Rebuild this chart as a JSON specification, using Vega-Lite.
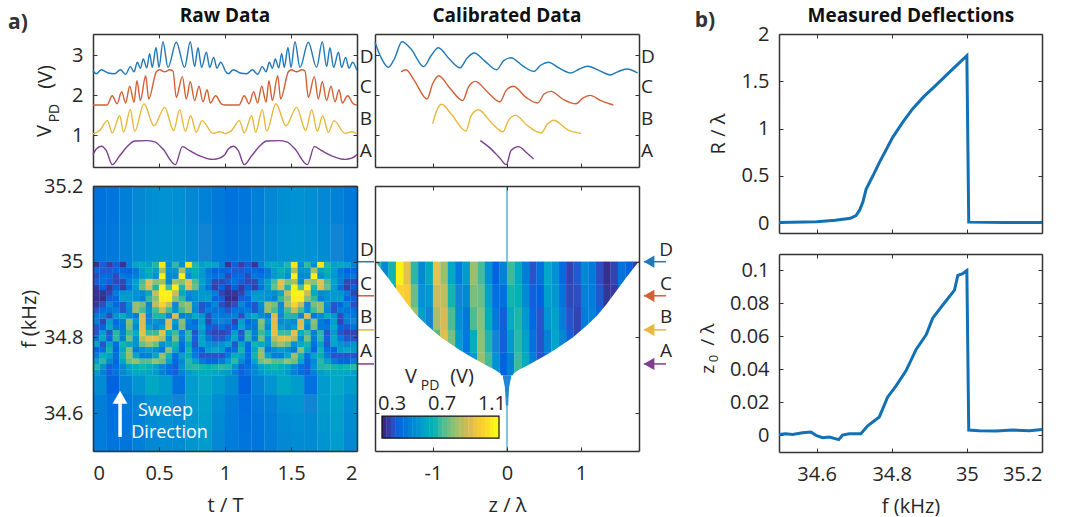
{"$schema":"https://vega.github.io/schema/vega-lite/v6.json","background":"white","padding":{"left":8,"top":6,"right":0,"bottom":0},
"config":{"view":{"stroke":null},"font":"Open Sans","text":{"font":"Open Sans"},"axis":{"grid":false,"domainColor":"#333333","domainWidth":1.5,"tickColor":"#333333","tickSize":-4,"tickWidth":1,"labelFont":"Open Sans","labelFontSize":20,"labelColor":"#262626","titleFont":"Open Sans","titleFontSize":20,"titleFontWeight":"normal","titleColor":"#262626","labelExpr":"''+datum.value"},"axisX":{"labelPadding":16,"titlePadding":12},"axisY":{"labelPadding":14}},
"datasets":{
"tr":[
{"t":0,"u":1,"V":2.61,"s":"D"},{"t":0.025,"u":1.025,"V":2.53,"s":"D"},{"t":0.063,"u":1.063,"V":2.63,"s":"D"},{"t":0.114,"u":1.114,"V":2.55,"s":"D"},{"t":0.164,"u":1.164,"V":2.53,"s":"D"},{"t":0.207,"u":1.207,"V":2.63,"s":"D"},{"t":0.247,"u":1.247,"V":2.52,"s":"D"},{"t":0.283,"u":1.283,"V":2.71,"s":"D"},{"t":0.311,"u":1.311,"V":2.58,"s":"D"},{"t":0.336,"u":1.336,"V":2.82,"s":"D"},{"t":0.359,"u":1.359,"V":2.67,"s":"D"},{"t":0.381,"u":1.381,"V":2.9,"s":"D"},{"t":0.407,"u":1.407,"V":2.68,"s":"D"},{"t":0.429,"u":1.429,"V":3.03,"s":"D"},{"t":0.449,"u":1.449,"V":2.69,"s":"D"},{"t":0.477,"u":1.477,"V":3.19,"s":"D"},{"t":0.5,"u":1.5,"V":2.69,"s":"D"},{"t":0.53,"u":1.53,"V":3.33,"s":"D"},{"t":0.568,"u":1.568,"V":2.69,"s":"D"},{"t":0.631,"u":1.631,"V":3.32,"s":"D"},{"t":0.694,"u":1.694,"V":2.69,"s":"D"},{"t":0.737,"u":1.737,"V":3.33,"s":"D"},{"t":0.77,"u":1.77,"V":2.71,"s":"D"},{"t":0.795,"u":1.795,"V":3.18,"s":"D"},{"t":0.823,"u":1.823,"V":2.69,"s":"D"},{"t":0.859,"u":1.859,"V":3.07,"s":"D"},{"t":0.884,"u":1.884,"V":2.69,"s":"D"},{"t":0.914,"u":1.914,"V":2.94,"s":"D"},{"t":0.939,"u":1.939,"V":2.67,"s":"D"},{"t":0.967,"u":1.967,"V":2.82,"s":"D"},{"t":1,"u":2,"V":2.61,"s":"D"},
{"t":0,"u":1,"V":1.75,"s":"C"},{"t":0.05,"u":1.05,"V":1.75,"s":"C"},{"t":0.106,"u":1.106,"V":1.75,"s":"C"},{"t":0.146,"u":1.146,"V":1.98,"s":"C"},{"t":0.182,"u":1.182,"V":1.78,"s":"C"},{"t":0.217,"u":1.217,"V":2.08,"s":"C"},{"t":0.247,"u":1.247,"V":1.8,"s":"C"},{"t":0.278,"u":1.278,"V":2.22,"s":"C"},{"t":0.311,"u":1.311,"V":1.82,"s":"C"},{"t":0.333,"u":1.333,"V":2.36,"s":"C"},{"t":0.359,"u":1.359,"V":1.86,"s":"C"},{"t":0.399,"u":1.399,"V":2.48,"s":"C"},{"t":0.422,"u":1.422,"V":1.9,"s":"C"},{"t":0.48,"u":1.48,"V":2.58,"s":"C"},{"t":0.505,"u":1.505,"V":2.63,"s":"C"},{"t":0.543,"u":1.543,"V":2.58,"s":"C"},{"t":0.581,"u":1.581,"V":2.63,"s":"C"},{"t":0.606,"u":1.606,"V":2.6,"s":"C"},{"t":0.631,"u":1.631,"V":1.94,"s":"C"},{"t":0.677,"u":1.677,"V":2.46,"s":"C"},{"t":0.707,"u":1.707,"V":1.9,"s":"C"},{"t":0.737,"u":1.737,"V":2.33,"s":"C"},{"t":0.77,"u":1.77,"V":1.86,"s":"C"},{"t":0.803,"u":1.803,"V":2.22,"s":"C"},{"t":0.833,"u":1.833,"V":1.83,"s":"C"},{"t":0.864,"u":1.864,"V":2.13,"s":"C"},{"t":0.889,"u":1.889,"V":1.8,"s":"C"},{"t":0.929,"u":1.929,"V":1.98,"s":"C"},{"t":0.972,"u":1.972,"V":1.78,"s":"C"},{"t":1,"u":2,"V":1.75,"s":"C"},
{"t":0,"u":1,"V":1.03,"s":"B"},{"t":0.05,"u":1.05,"V":1.11,"s":"B"},{"t":0.109,"u":1.109,"V":1.36,"s":"B"},{"t":0.146,"u":1.146,"V":1.05,"s":"B"},{"t":0.202,"u":1.202,"V":1.48,"s":"B"},{"t":0.232,"u":1.232,"V":1.07,"s":"B"},{"t":0.283,"u":1.283,"V":1.63,"s":"B"},{"t":0.316,"u":1.316,"V":1.09,"s":"B"},{"t":0.386,"u":1.386,"V":1.78,"s":"B"},{"t":0.462,"u":1.462,"V":1.23,"s":"B"},{"t":0.543,"u":1.543,"V":1.69,"s":"B"},{"t":0.611,"u":1.611,"V":1.11,"s":"B"},{"t":0.657,"u":1.657,"V":1.63,"s":"B"},{"t":0.699,"u":1.699,"V":1.09,"s":"B"},{"t":0.74,"u":1.74,"V":1.48,"s":"B"},{"t":0.783,"u":1.783,"V":1.07,"s":"B"},{"t":0.826,"u":1.826,"V":1.36,"s":"B"},{"t":0.909,"u":1.909,"V":1.04,"s":"B"},{"t":0.96,"u":1.96,"V":1.08,"s":"B"},{"t":1,"u":2,"V":1.03,"s":"B"},
{"t":0,"u":1,"V":0.51,"s":"A"},{"t":0.025,"u":1.025,"V":0.65,"s":"A"},{"t":0.063,"u":1.063,"V":0.72,"s":"A"},{"t":0.101,"u":1.101,"V":0.61,"s":"A"},{"t":0.146,"u":1.146,"V":0.26,"s":"A"},{"t":0.202,"u":1.202,"V":0.48,"s":"A"},{"t":0.265,"u":1.265,"V":0.73,"s":"A"},{"t":0.316,"u":1.316,"V":0.85,"s":"A"},{"t":0.404,"u":1.404,"V":0.86,"s":"A"},{"t":0.467,"u":1.467,"V":0.83,"s":"A"},{"t":0.53,"u":1.53,"V":0.65,"s":"A"},{"t":0.624,"u":1.624,"V":0.26,"s":"A"},{"t":0.677,"u":1.677,"V":0.71,"s":"A"},{"t":0.732,"u":1.732,"V":0.61,"s":"A"},{"t":0.808,"u":1.808,"V":0.48,"s":"A"},{"t":0.909,"u":1.909,"V":0.39,"s":"A"},{"t":0.96,"u":1.96,"V":0.42,"s":"A"},{"t":1,"u":2,"V":0.51,"s":"A"}],
"cal":[
{"z":-1.784,"V":3.32,"s":"D"},{"z":-1.703,"V":2.94,"s":"D"},{"z":-1.604,"V":2.69,"s":"D"},{"z":-1.523,"V":2.9,"s":"D"},{"z":-1.419,"V":3.33,"s":"D"},{"z":-1.297,"V":3.15,"s":"D"},{"z":-1.126,"V":2.71,"s":"D"},{"z":-1.027,"V":2.98,"s":"D"},{"z":-0.928,"V":3.18,"s":"D"},{"z":-0.779,"V":2.9,"s":"D"},{"z":-0.635,"V":2.68,"s":"D"},{"z":-0.541,"V":2.92,"s":"D"},{"z":-0.441,"V":3.05,"s":"D"},{"z":-0.306,"V":2.86,"s":"D"},{"z":-0.14,"V":2.63,"s":"D"},{"z":-0.045,"V":2.86,"s":"D"},{"z":0.054,"V":2.93,"s":"D"},{"z":0.212,"V":2.73,"s":"D"},{"z":0.36,"V":2.59,"s":"D"},{"z":0.459,"V":2.75,"s":"D"},{"z":0.559,"V":2.82,"s":"D"},{"z":0.707,"V":2.67,"s":"D"},{"z":0.865,"V":2.55,"s":"D"},{"z":0.977,"V":2.65,"s":"D"},{"z":1.09,"V":2.72,"s":"D"},{"z":1.248,"V":2.61,"s":"D"},{"z":1.396,"V":2.5,"s":"D"},{"z":1.495,"V":2.58,"s":"D"},{"z":1.622,"V":2.65,"s":"D"},{"z":1.766,"V":2.55,"s":"D"},
{"z":-1.432,"V":2.58,"s":"C"},{"z":-1.365,"V":2.63,"s":"C"},{"z":-1.252,"V":2.36,"s":"C"},{"z":-1.081,"V":1.9,"s":"C"},{"z":-1.005,"V":2.28,"s":"C"},{"z":-0.923,"V":2.48,"s":"C"},{"z":-0.779,"V":2.19,"s":"C"},{"z":-0.599,"V":1.86,"s":"C"},{"z":-0.523,"V":2.19,"s":"C"},{"z":-0.428,"V":2.34,"s":"C"},{"z":-0.261,"V":2.07,"s":"C"},{"z":-0.095,"V":1.83,"s":"C"},{"z":-0.014,"V":2.11,"s":"C"},{"z":0.086,"V":2.22,"s":"C"},{"z":0.257,"V":1.94,"s":"C"},{"z":0.414,"V":1.8,"s":"C"},{"z":0.505,"V":2.03,"s":"C"},{"z":0.595,"V":2.09,"s":"C"},{"z":0.752,"V":1.9,"s":"C"},{"z":0.932,"V":1.78,"s":"C"},{"z":1.023,"V":1.92,"s":"C"},{"z":1.122,"V":1.99,"s":"C"},{"z":1.27,"V":1.86,"s":"C"},{"z":1.437,"V":1.75,"s":"C"},
{"z":-1.005,"V":1.28,"s":"B"},{"z":-0.959,"V":1.57,"s":"B"},{"z":-0.883,"V":1.77,"s":"B"},{"z":-0.757,"V":1.53,"s":"B"},{"z":-0.554,"V":1.1,"s":"B"},{"z":-0.486,"V":1.48,"s":"B"},{"z":-0.387,"V":1.63,"s":"B"},{"z":-0.216,"V":1.32,"s":"B"},{"z":-0.054,"V":1.08,"s":"B"},{"z":0.018,"V":1.36,"s":"B"},{"z":0.113,"V":1.49,"s":"B"},{"z":0.279,"V":1.23,"s":"B"},{"z":0.459,"V":1.05,"s":"B"},{"z":0.55,"V":1.28,"s":"B"},{"z":0.631,"V":1.37,"s":"B"},{"z":0.82,"V":1.13,"s":"B"},{"z":1.0,"V":1.04,"s":"B"},
{"z":-0.36,"V":0.86,"s":"A"},{"z":-0.239,"V":0.69,"s":"A"},{"z":-0.104,"V":0.44,"s":"A"},{"z":-0.009,"V":0.26,"s":"A"},{"z":0.054,"V":0.61,"s":"A"},{"z":0.158,"V":0.71,"s":"A"},{"z":0.257,"V":0.57,"s":"A"},{"z":0.36,"V":0.4,"s":"A"}],
"rawc":[
{"t":0.05,"u":1.05,"f":35.15,"v":0.45},{"t":0.15,"u":1.15,"f":35.15,"v":0.46},{"t":0.25,"u":1.25,"f":35.15,"v":0.49},{"t":0.35,"u":1.35,"f":35.15,"v":0.52},{"t":0.45,"u":1.45,"f":35.15,"v":0.54},{"t":0.55,"u":1.55,"f":35.15,"v":0.55},{"t":0.65,"u":1.65,"f":35.15,"v":0.54},{"t":0.75,"u":1.75,"f":35.15,"v":0.52},{"t":0.85,"u":1.85,"f":35.15,"v":0.5},{"t":0.95,"u":1.95,"f":35.15,"v":0.47},
{"t":0.05,"u":1.05,"f":35.05,"v":0.46},{"t":0.15,"u":1.15,"f":35.05,"v":0.47},{"t":0.25,"u":1.25,"f":35.05,"v":0.5},{"t":0.35,"u":1.35,"f":35.05,"v":0.53},{"t":0.45,"u":1.45,"f":35.05,"v":0.55},{"t":0.55,"u":1.55,"f":35.05,"v":0.56},{"t":0.65,"u":1.65,"f":35.05,"v":0.55},{"t":0.75,"u":1.75,"f":35.05,"v":0.53},{"t":0.85,"u":1.85,"f":35.05,"v":0.51},{"t":0.95,"u":1.95,"f":35.05,"v":0.48}],
"rawl":[
{"t":0.05,"u":1.05,"f":34.525,"v":0.48},{"t":0.15,"u":1.15,"f":34.525,"v":0.46},{"t":0.25,"u":1.25,"f":34.525,"v":0.46},{"t":0.35,"u":1.35,"f":34.525,"v":0.49},{"t":0.45,"u":1.45,"f":34.525,"v":0.52},{"t":0.55,"u":1.55,"f":34.525,"v":0.53},{"t":0.65,"u":1.65,"f":34.525,"v":0.53},{"t":0.75,"u":1.75,"f":34.525,"v":0.56},{"t":0.85,"u":1.85,"f":34.525,"v":0.58},{"t":0.95,"u":1.95,"f":34.525,"v":0.52},
{"t":0.05,"u":1.05,"f":34.575,"v":0.48},{"t":0.15,"u":1.15,"f":34.575,"v":0.45},{"t":0.25,"u":1.25,"f":34.575,"v":0.46},{"t":0.35,"u":1.35,"f":34.575,"v":0.49},{"t":0.45,"u":1.45,"f":34.575,"v":0.53},{"t":0.55,"u":1.55,"f":34.575,"v":0.54},{"t":0.65,"u":1.65,"f":34.575,"v":0.53},{"t":0.75,"u":1.75,"f":34.575,"v":0.57},{"t":0.85,"u":1.85,"f":34.575,"v":0.59},{"t":0.95,"u":1.95,"f":34.575,"v":0.53},
{"t":0.05,"u":1.05,"f":34.625,"v":0.49},{"t":0.15,"u":1.15,"f":34.625,"v":0.44},{"t":0.25,"u":1.25,"f":34.625,"v":0.47},{"t":0.35,"u":1.35,"f":34.625,"v":0.5},{"t":0.45,"u":1.45,"f":34.625,"v":0.55},{"t":0.55,"u":1.55,"f":34.625,"v":0.56},{"t":0.65,"u":1.65,"f":34.625,"v":0.51},{"t":0.75,"u":1.75,"f":34.625,"v":0.58},{"t":0.85,"u":1.85,"f":34.625,"v":0.6},{"t":0.95,"u":1.95,"f":34.625,"v":0.54},
{"t":0.05,"u":1.05,"f":34.675,"v":0.53},{"t":0.15,"u":1.15,"f":34.675,"v":0.41},{"t":0.25,"u":1.25,"f":34.675,"v":0.5},{"t":0.35,"u":1.35,"f":34.675,"v":0.56},{"t":0.45,"u":1.45,"f":34.675,"v":0.63},{"t":0.55,"u":1.55,"f":34.675,"v":0.58},{"t":0.65,"u":1.65,"f":34.675,"v":0.45},{"t":0.75,"u":1.75,"f":34.675,"v":0.58},{"t":0.85,"u":1.85,"f":34.675,"v":0.62},{"t":0.95,"u":1.95,"f":34.675,"v":0.58}],
"raw":[
{"t":0.025,"u":1.025,"f":34.7075,"v":0.58},{"t":0.075,"u":1.075,"f":34.7075,"v":0.5},{"t":0.125,"u":1.125,"f":34.7075,"v":0.4},{"t":0.175,"u":1.175,"f":34.7075,"v":0.46},{"t":0.225,"u":1.225,"f":34.7075,"v":0.52},{"t":0.275,"u":1.275,"f":34.7075,"v":0.58},{"t":0.325,"u":1.325,"f":34.7075,"v":0.62},{"t":0.375,"u":1.375,"f":34.7075,"v":0.64},{"t":0.425,"u":1.425,"f":34.7075,"v":0.62},{"t":0.475,"u":1.475,"f":34.7075,"v":0.58},{"t":0.525,"u":1.525,"f":34.7075,"v":0.5},{"t":0.575,"u":1.575,"f":34.7075,"v":0.44},{"t":0.625,"u":1.625,"f":34.7075,"v":0.4},{"t":0.675,"u":1.675,"f":34.7075,"v":0.5},{"t":0.725,"u":1.725,"f":34.7075,"v":0.58},{"t":0.775,"u":1.775,"f":34.7075,"v":0.62},{"t":0.825,"u":1.825,"f":34.7075,"v":0.64},{"t":0.875,"u":1.875,"f":34.7075,"v":0.64},{"t":0.925,"u":1.925,"f":34.7075,"v":0.63},{"t":0.975,"u":1.975,"f":34.7075,"v":0.6},
{"t":0.025,"u":1.025,"f":34.7225,"v":0.7},{"t":0.075,"u":1.075,"f":34.7225,"v":0.56},{"t":0.125,"u":1.125,"f":34.7225,"v":0.4},{"t":0.175,"u":1.175,"f":34.7225,"v":0.44},{"t":0.225,"u":1.225,"f":34.7225,"v":0.52},{"t":0.275,"u":1.275,"f":34.7225,"v":0.61},{"t":0.325,"u":1.325,"f":34.7225,"v":0.67},{"t":0.375,"u":1.375,"f":34.7225,"v":0.69},{"t":0.425,"u":1.425,"f":34.7225,"v":0.67},{"t":0.475,"u":1.475,"f":34.7225,"v":0.61},{"t":0.525,"u":1.525,"f":34.7225,"v":0.52},{"t":0.575,"u":1.575,"f":34.7225,"v":0.44},{"t":0.625,"u":1.625,"f":34.7225,"v":0.4},{"t":0.675,"u":1.675,"f":34.7225,"v":0.56},{"t":0.725,"u":1.725,"f":34.7225,"v":0.7},{"t":0.775,"u":1.775,"f":34.7225,"v":0.71},{"t":0.825,"u":1.825,"f":34.7225,"v":0.69},{"t":0.875,"u":1.875,"f":34.7225,"v":0.67},{"t":0.925,"u":1.925,"f":34.7225,"v":0.69},{"t":0.975,"u":1.975,"f":34.7225,"v":0.71},
{"t":0.025,"u":1.025,"f":34.7375,"v":0.59},{"t":0.075,"u":1.075,"f":34.7375,"v":0.71},{"t":0.125,"u":1.125,"f":34.7375,"v":0.53},{"t":0.175,"u":1.175,"f":34.7375,"v":0.42},{"t":0.225,"u":1.225,"f":34.7375,"v":0.61},{"t":0.275,"u":1.275,"f":34.7375,"v":0.79},{"t":0.325,"u":1.325,"f":34.7375,"v":0.84},{"t":0.375,"u":1.375,"f":34.7375,"v":0.76},{"t":0.425,"u":1.425,"f":34.7375,"v":0.76},{"t":0.475,"u":1.475,"f":34.7375,"v":0.84},{"t":0.525,"u":1.525,"f":34.7375,"v":0.79},{"t":0.575,"u":1.575,"f":34.7375,"v":0.61},{"t":0.625,"u":1.625,"f":34.7375,"v":0.42},{"t":0.675,"u":1.675,"f":34.7375,"v":0.53},{"t":0.725,"u":1.725,"f":34.7375,"v":0.71},{"t":0.775,"u":1.775,"f":34.7375,"v":0.59},{"t":0.825,"u":1.825,"f":34.7375,"v":0.48},{"t":0.875,"u":1.875,"f":34.7375,"v":0.42},{"t":0.925,"u":1.925,"f":34.7375,"v":0.42},{"t":0.975,"u":1.975,"f":34.7375,"v":0.48},
{"t":0.025,"u":1.025,"f":34.7525,"v":0.48},{"t":0.075,"u":1.075,"f":34.7525,"v":0.66},{"t":0.125,"u":1.125,"f":34.7525,"v":0.6},{"t":0.175,"u":1.175,"f":34.7525,"v":0.44},{"t":0.225,"u":1.225,"f":34.7525,"v":0.69},{"t":0.275,"u":1.275,"f":34.7525,"v":0.85},{"t":0.325,"u":1.325,"f":34.7525,"v":0.62},{"t":0.375,"u":1.375,"f":34.7525,"v":0.49},{"t":0.425,"u":1.425,"f":34.7525,"v":0.49},{"t":0.475,"u":1.475,"f":34.7525,"v":0.62},{"t":0.525,"u":1.525,"f":34.7525,"v":0.85},{"t":0.575,"u":1.575,"f":34.7525,"v":0.69},{"t":0.625,"u":1.625,"f":34.7525,"v":0.44},{"t":0.675,"u":1.675,"f":34.7525,"v":0.6},{"t":0.725,"u":1.725,"f":34.7525,"v":0.66},{"t":0.775,"u":1.775,"f":34.7525,"v":0.48},{"t":0.825,"u":1.825,"f":34.7525,"v":0.38},{"t":0.875,"u":1.875,"f":34.7525,"v":0.38},{"t":0.925,"u":1.925,"f":34.7525,"v":0.38},{"t":0.975,"u":1.975,"f":34.7525,"v":0.38},
{"t":0.025,"u":1.025,"f":34.7675,"v":0.41},{"t":0.075,"u":1.075,"f":34.7675,"v":0.44},{"t":0.125,"u":1.125,"f":34.7675,"v":0.69},{"t":0.175,"u":1.175,"f":34.7675,"v":0.42},{"t":0.225,"u":1.225,"f":34.7675,"v":0.63},{"t":0.275,"u":1.275,"f":34.7675,"v":0.82},{"t":0.325,"u":1.325,"f":34.7675,"v":0.47},{"t":0.375,"u":1.375,"f":34.7675,"v":0.54},{"t":0.425,"u":1.425,"f":34.7675,"v":0.59},{"t":0.475,"u":1.475,"f":34.7675,"v":0.54},{"t":0.525,"u":1.525,"f":34.7675,"v":0.47},{"t":0.575,"u":1.575,"f":34.7675,"v":0.82},{"t":0.625,"u":1.625,"f":34.7675,"v":0.63},{"t":0.675,"u":1.675,"f":34.7675,"v":0.42},{"t":0.725,"u":1.725,"f":34.7675,"v":0.69},{"t":0.775,"u":1.775,"f":34.7675,"v":0.44},{"t":0.825,"u":1.825,"f":34.7675,"v":0.41},{"t":0.875,"u":1.875,"f":34.7675,"v":0.58},{"t":0.925,"u":1.925,"f":34.7675,"v":0.62},{"t":0.975,"u":1.975,"f":34.7675,"v":0.58},
{"t":0.025,"u":1.025,"f":34.7825,"v":0.61},{"t":0.075,"u":1.075,"f":34.7825,"v":0.38},{"t":0.125,"u":1.125,"f":34.7825,"v":0.63},{"t":0.175,"u":1.175,"f":34.7825,"v":0.44},{"t":0.225,"u":1.225,"f":34.7825,"v":0.69},{"t":0.275,"u":1.275,"f":34.7825,"v":0.62},{"t":0.325,"u":1.325,"f":34.7825,"v":0.55},{"t":0.375,"u":1.375,"f":34.7825,"v":0.78},{"t":0.425,"u":1.425,"f":34.7825,"v":0.86},{"t":0.475,"u":1.475,"f":34.7825,"v":0.78},{"t":0.525,"u":1.525,"f":34.7825,"v":0.55},{"t":0.575,"u":1.575,"f":34.7825,"v":0.62},{"t":0.625,"u":1.625,"f":34.7825,"v":0.69},{"t":0.675,"u":1.675,"f":34.7825,"v":0.44},{"t":0.725,"u":1.725,"f":34.7825,"v":0.63},{"t":0.775,"u":1.775,"f":34.7825,"v":0.38},{"t":0.825,"u":1.825,"f":34.7825,"v":0.61},{"t":0.875,"u":1.875,"f":34.7825,"v":0.55},{"t":0.925,"u":1.925,"f":34.7825,"v":0.51},{"t":0.975,"u":1.975,"f":34.7825,"v":0.55},
{"t":0.025,"u":1.025,"f":34.7975,"v":0.47},{"t":0.075,"u":1.075,"f":34.7975,"v":0.62},{"t":0.125,"u":1.125,"f":34.7975,"v":0.4},{"t":0.175,"u":1.175,"f":34.7975,"v":0.72},{"t":0.225,"u":1.225,"f":34.7975,"v":0.49},{"t":0.275,"u":1.275,"f":34.7975,"v":0.8},{"t":0.325,"u":1.325,"f":34.7975,"v":0.55},{"t":0.375,"u":1.375,"f":34.7975,"v":0.89},{"t":0.425,"u":1.425,"f":34.7975,"v":0.97},{"t":0.475,"u":1.475,"f":34.7975,"v":0.97},{"t":0.525,"u":1.525,"f":34.7975,"v":0.89},{"t":0.575,"u":1.575,"f":34.7975,"v":0.55},{"t":0.625,"u":1.625,"f":34.7975,"v":0.8},{"t":0.675,"u":1.675,"f":34.7975,"v":0.49},{"t":0.725,"u":1.725,"f":34.7975,"v":0.72},{"t":0.775,"u":1.775,"f":34.7975,"v":0.4},{"t":0.825,"u":1.825,"f":34.7975,"v":0.62},{"t":0.875,"u":1.875,"f":34.7975,"v":0.47},{"t":0.925,"u":1.925,"f":34.7975,"v":0.38},{"t":0.975,"u":1.975,"f":34.7975,"v":0.38},
{"t":0.025,"u":1.025,"f":34.8125,"v":0.38},{"t":0.075,"u":1.075,"f":34.8125,"v":0.58},{"t":0.125,"u":1.125,"f":34.8125,"v":0.38},{"t":0.175,"u":1.175,"f":34.8125,"v":0.71},{"t":0.225,"u":1.225,"f":34.8125,"v":0.5},{"t":0.275,"u":1.275,"f":34.8125,"v":0.73},{"t":0.325,"u":1.325,"f":34.8125,"v":0.65},{"t":0.375,"u":1.375,"f":34.8125,"v":0.97},{"t":0.425,"u":1.425,"f":34.8125,"v":0.73},{"t":0.475,"u":1.475,"f":34.8125,"v":0.73},{"t":0.525,"u":1.525,"f":34.8125,"v":0.97},{"t":0.575,"u":1.575,"f":34.8125,"v":0.65},{"t":0.625,"u":1.625,"f":34.8125,"v":0.73},{"t":0.675,"u":1.675,"f":34.8125,"v":0.5},{"t":0.725,"u":1.725,"f":34.8125,"v":0.71},{"t":0.775,"u":1.775,"f":34.8125,"v":0.38},{"t":0.825,"u":1.825,"f":34.8125,"v":0.58},{"t":0.875,"u":1.875,"f":34.8125,"v":0.38},{"t":0.925,"u":1.925,"f":34.8125,"v":0.35},{"t":0.975,"u":1.975,"f":34.8125,"v":0.35},
{"t":0.025,"u":1.025,"f":34.8275,"v":0.38},{"t":0.075,"u":1.075,"f":34.8275,"v":0.41},{"t":0.125,"u":1.125,"f":34.8275,"v":0.62},{"t":0.175,"u":1.175,"f":34.8275,"v":0.47},{"t":0.225,"u":1.225,"f":34.8275,"v":0.47},{"t":0.275,"u":1.275,"f":34.8275,"v":0.8},{"t":0.325,"u":1.325,"f":34.8275,"v":0.52},{"t":0.375,"u":1.375,"f":34.8275,"v":0.96},{"t":0.425,"u":1.425,"f":34.8275,"v":0.6},{"t":0.475,"u":1.475,"f":34.8275,"v":0.51},{"t":0.525,"u":1.525,"f":34.8275,"v":0.6},{"t":0.575,"u":1.575,"f":34.8275,"v":0.96},{"t":0.625,"u":1.625,"f":34.8275,"v":0.52},{"t":0.675,"u":1.675,"f":34.8275,"v":0.8},{"t":0.725,"u":1.725,"f":34.8275,"v":0.47},{"t":0.775,"u":1.775,"f":34.8275,"v":0.47},{"t":0.825,"u":1.825,"f":34.8275,"v":0.62},{"t":0.875,"u":1.875,"f":34.8275,"v":0.41},{"t":0.925,"u":1.925,"f":34.8275,"v":0.38},{"t":0.975,"u":1.975,"f":34.8275,"v":0.45},
{"t":0.025,"u":1.025,"f":34.8425,"v":0.49},{"t":0.075,"u":1.075,"f":34.8425,"v":0.35},{"t":0.125,"u":1.125,"f":34.8425,"v":0.59},{"t":0.175,"u":1.175,"f":34.8425,"v":0.43},{"t":0.225,"u":1.225,"f":34.8425,"v":0.49},{"t":0.275,"u":1.275,"f":34.8425,"v":0.82},{"t":0.325,"u":1.325,"f":34.8425,"v":0.58},{"t":0.375,"u":1.375,"f":34.8425,"v":0.95},{"t":0.425,"u":1.425,"f":34.8425,"v":0.51},{"t":0.475,"u":1.475,"f":34.8425,"v":0.57},{"t":0.525,"u":1.525,"f":34.8425,"v":0.51},{"t":0.575,"u":1.575,"f":34.8425,"v":0.95},{"t":0.625,"u":1.625,"f":34.8425,"v":0.58},{"t":0.675,"u":1.675,"f":34.8425,"v":0.82},{"t":0.725,"u":1.725,"f":34.8425,"v":0.49},{"t":0.775,"u":1.775,"f":34.8425,"v":0.43},{"t":0.825,"u":1.825,"f":34.8425,"v":0.59},{"t":0.875,"u":1.875,"f":34.8425,"v":0.35},{"t":0.925,"u":1.925,"f":34.8425,"v":0.49},{"t":0.975,"u":1.975,"f":34.8425,"v":0.51},
{"t":0.025,"u":1.025,"f":34.8575,"v":0.47},{"t":0.075,"u":1.075,"f":34.8575,"v":0.5},{"t":0.125,"u":1.125,"f":34.8575,"v":0.37},{"t":0.175,"u":1.175,"f":34.8575,"v":0.56},{"t":0.225,"u":1.225,"f":34.8575,"v":0.65},{"t":0.275,"u":1.275,"f":34.8575,"v":0.53},{"t":0.325,"u":1.325,"f":34.8575,"v":0.48},{"t":0.375,"u":1.375,"f":34.8575,"v":0.94},{"t":0.425,"u":1.425,"f":34.8575,"v":0.51},{"t":0.475,"u":1.475,"f":34.8575,"v":0.7},{"t":0.525,"u":1.525,"f":34.8575,"v":0.7},{"t":0.575,"u":1.575,"f":34.8575,"v":0.51},{"t":0.625,"u":1.625,"f":34.8575,"v":0.94},{"t":0.675,"u":1.675,"f":34.8575,"v":0.48},{"t":0.725,"u":1.725,"f":34.8575,"v":0.53},{"t":0.775,"u":1.775,"f":34.8575,"v":0.65},{"t":0.825,"u":1.825,"f":34.8575,"v":0.56},{"t":0.875,"u":1.875,"f":34.8575,"v":0.37},{"t":0.925,"u":1.925,"f":34.8575,"v":0.5},{"t":0.975,"u":1.975,"f":34.8575,"v":0.47},
{"t":0.025,"u":1.025,"f":34.8725,"v":0.38},{"t":0.075,"u":1.075,"f":34.8725,"v":0.45},{"t":0.125,"u":1.125,"f":34.8725,"v":0.46},{"t":0.175,"u":1.175,"f":34.8725,"v":0.48},{"t":0.225,"u":1.225,"f":34.8725,"v":0.38},{"t":0.275,"u":1.275,"f":34.8725,"v":0.52},{"t":0.325,"u":1.325,"f":34.8725,"v":0.84},{"t":0.375,"u":1.375,"f":34.8725,"v":0.74},{"t":0.425,"u":1.425,"f":34.8725,"v":0.55},{"t":0.475,"u":1.475,"f":34.8725,"v":0.74},{"t":0.525,"u":1.525,"f":34.8725,"v":0.91},{"t":0.575,"u":1.575,"f":34.8725,"v":0.74},{"t":0.625,"u":1.625,"f":34.8725,"v":0.55},{"t":0.675,"u":1.675,"f":34.8725,"v":0.74},{"t":0.725,"u":1.725,"f":34.8725,"v":0.84},{"t":0.775,"u":1.775,"f":34.8725,"v":0.52},{"t":0.825,"u":1.825,"f":34.8725,"v":0.38},{"t":0.875,"u":1.875,"f":34.8725,"v":0.48},{"t":0.925,"u":1.925,"f":34.8725,"v":0.46},{"t":0.975,"u":1.975,"f":34.8725,"v":0.45},
{"t":0.025,"u":1.025,"f":34.8875,"v":0.33},{"t":0.075,"u":1.075,"f":34.8875,"v":0.37},{"t":0.125,"u":1.125,"f":34.8875,"v":0.52},{"t":0.175,"u":1.175,"f":34.8875,"v":0.42},{"t":0.225,"u":1.225,"f":34.8875,"v":0.38},{"t":0.275,"u":1.275,"f":34.8875,"v":0.54},{"t":0.325,"u":1.325,"f":34.8875,"v":0.85},{"t":0.375,"u":1.375,"f":34.8875,"v":0.8},{"t":0.425,"u":1.425,"f":34.8875,"v":0.51},{"t":0.475,"u":1.475,"f":34.8875,"v":0.9},{"t":0.525,"u":1.525,"f":34.8875,"v":1.05},{"t":0.575,"u":1.575,"f":34.8875,"v":0.9},{"t":0.625,"u":1.625,"f":34.8875,"v":0.51},{"t":0.675,"u":1.675,"f":34.8875,"v":0.8},{"t":0.725,"u":1.725,"f":34.8875,"v":0.85},{"t":0.775,"u":1.775,"f":34.8875,"v":0.54},{"t":0.825,"u":1.825,"f":34.8875,"v":0.38},{"t":0.875,"u":1.875,"f":34.8875,"v":0.42},{"t":0.925,"u":1.925,"f":34.8875,"v":0.52},{"t":0.975,"u":1.975,"f":34.8875,"v":0.37},
{"t":0.025,"u":1.025,"f":34.9025,"v":0.31},{"t":0.075,"u":1.075,"f":34.9025,"v":0.31},{"t":0.125,"u":1.125,"f":34.9025,"v":0.4},{"t":0.175,"u":1.175,"f":34.9025,"v":0.42},{"t":0.225,"u":1.225,"f":34.9025,"v":0.59},{"t":0.275,"u":1.275,"f":34.9025,"v":0.58},{"t":0.325,"u":1.325,"f":34.9025,"v":0.55},{"t":0.375,"u":1.375,"f":34.9025,"v":0.5},{"t":0.425,"u":1.425,"f":34.9025,"v":0.72},{"t":0.475,"u":1.475,"f":34.9025,"v":0.82},{"t":0.525,"u":1.525,"f":34.9025,"v":1.11},{"t":0.575,"u":1.575,"f":34.9025,"v":1.11},{"t":0.625,"u":1.625,"f":34.9025,"v":0.82},{"t":0.675,"u":1.675,"f":34.9025,"v":0.72},{"t":0.725,"u":1.725,"f":34.9025,"v":0.5},{"t":0.775,"u":1.775,"f":34.9025,"v":0.55},{"t":0.825,"u":1.825,"f":34.9025,"v":0.58},{"t":0.875,"u":1.875,"f":34.9025,"v":0.59},{"t":0.925,"u":1.925,"f":34.9025,"v":0.42},{"t":0.975,"u":1.975,"f":34.9025,"v":0.4},
{"t":0.025,"u":1.025,"f":34.9175,"v":0.32},{"t":0.075,"u":1.075,"f":34.9175,"v":0.32},{"t":0.125,"u":1.125,"f":34.9175,"v":0.35},{"t":0.175,"u":1.175,"f":34.9175,"v":0.48},{"t":0.225,"u":1.225,"f":34.9175,"v":0.56},{"t":0.275,"u":1.275,"f":34.9175,"v":0.57},{"t":0.325,"u":1.325,"f":34.9175,"v":0.55},{"t":0.375,"u":1.375,"f":34.9175,"v":0.53},{"t":0.425,"u":1.425,"f":34.9175,"v":0.62},{"t":0.475,"u":1.475,"f":34.9175,"v":0.92},{"t":0.525,"u":1.525,"f":34.9175,"v":1.13},{"t":0.575,"u":1.575,"f":34.9175,"v":1.13},{"t":0.625,"u":1.625,"f":34.9175,"v":0.92},{"t":0.675,"u":1.675,"f":34.9175,"v":0.62},{"t":0.725,"u":1.725,"f":34.9175,"v":0.53},{"t":0.775,"u":1.775,"f":34.9175,"v":0.55},{"t":0.825,"u":1.825,"f":34.9175,"v":0.57},{"t":0.875,"u":1.875,"f":34.9175,"v":0.56},{"t":0.925,"u":1.925,"f":34.9175,"v":0.48},{"t":0.975,"u":1.975,"f":34.9175,"v":0.35},
{"t":0.025,"u":1.025,"f":34.9325,"v":0.33},{"t":0.075,"u":1.075,"f":34.9325,"v":0.41},{"t":0.125,"u":1.125,"f":34.9325,"v":0.33},{"t":0.175,"u":1.175,"f":34.9325,"v":0.41},{"t":0.225,"u":1.225,"f":34.9325,"v":0.34},{"t":0.275,"u":1.275,"f":34.9325,"v":0.45},{"t":0.325,"u":1.325,"f":34.9325,"v":0.58},{"t":0.375,"u":1.375,"f":34.9325,"v":0.78},{"t":0.425,"u":1.425,"f":34.9325,"v":0.95},{"t":0.475,"u":1.475,"f":34.9325,"v":0.7},{"t":0.525,"u":1.525,"f":34.9325,"v":1.12},{"t":0.575,"u":1.575,"f":34.9325,"v":0.75},{"t":0.625,"u":1.625,"f":34.9325,"v":1.12},{"t":0.675,"u":1.675,"f":34.9325,"v":0.7},{"t":0.725,"u":1.725,"f":34.9325,"v":0.95},{"t":0.775,"u":1.775,"f":34.9325,"v":0.78},{"t":0.825,"u":1.825,"f":34.9325,"v":0.58},{"t":0.875,"u":1.875,"f":34.9325,"v":0.45},{"t":0.925,"u":1.925,"f":34.9325,"v":0.34},{"t":0.975,"u":1.975,"f":34.9325,"v":0.41},
{"t":0.025,"u":1.025,"f":34.9475,"v":0.4},{"t":0.075,"u":1.075,"f":34.9475,"v":0.45},{"t":0.125,"u":1.125,"f":34.9475,"v":0.4},{"t":0.175,"u":1.175,"f":34.9475,"v":0.36},{"t":0.225,"u":1.225,"f":34.9475,"v":0.36},{"t":0.275,"u":1.275,"f":34.9475,"v":0.5},{"t":0.325,"u":1.325,"f":34.9475,"v":0.6},{"t":0.375,"u":1.375,"f":34.9475,"v":0.75},{"t":0.425,"u":1.425,"f":34.9475,"v":0.97},{"t":0.475,"u":1.475,"f":34.9475,"v":0.82},{"t":0.525,"u":1.525,"f":34.9475,"v":0.87},{"t":0.575,"u":1.575,"f":34.9475,"v":0.53},{"t":0.625,"u":1.625,"f":34.9475,"v":0.87},{"t":0.675,"u":1.675,"f":34.9475,"v":0.82},{"t":0.725,"u":1.725,"f":34.9475,"v":0.97},{"t":0.775,"u":1.775,"f":34.9475,"v":0.75},{"t":0.825,"u":1.825,"f":34.9475,"v":0.6},{"t":0.875,"u":1.875,"f":34.9475,"v":0.5},{"t":0.925,"u":1.925,"f":34.9475,"v":0.36},{"t":0.975,"u":1.975,"f":34.9475,"v":0.36},
{"t":0.025,"u":1.025,"f":34.9625,"v":0.36},{"t":0.075,"u":1.075,"f":34.9625,"v":0.43},{"t":0.125,"u":1.125,"f":34.9625,"v":0.43},{"t":0.175,"u":1.175,"f":34.9625,"v":0.36},{"t":0.225,"u":1.225,"f":34.9625,"v":0.47},{"t":0.275,"u":1.275,"f":34.9625,"v":0.44},{"t":0.325,"u":1.325,"f":34.9625,"v":0.49},{"t":0.375,"u":1.375,"f":34.9625,"v":0.57},{"t":0.425,"u":1.425,"f":34.9625,"v":0.63},{"t":0.475,"u":1.475,"f":34.9625,"v":0.54},{"t":0.525,"u":1.525,"f":34.9625,"v":1.13},{"t":0.575,"u":1.575,"f":34.9625,"v":0.52},{"t":0.625,"u":1.625,"f":34.9625,"v":0.52},{"t":0.675,"u":1.675,"f":34.9625,"v":1.13},{"t":0.725,"u":1.725,"f":34.9625,"v":0.54},{"t":0.775,"u":1.775,"f":34.9625,"v":0.63},{"t":0.825,"u":1.825,"f":34.9625,"v":0.57},{"t":0.875,"u":1.875,"f":34.9625,"v":0.49},{"t":0.925,"u":1.925,"f":34.9625,"v":0.44},{"t":0.975,"u":1.975,"f":34.9625,"v":0.47},
{"t":0.025,"u":1.025,"f":34.9775,"v":0.42},{"t":0.075,"u":1.075,"f":34.9775,"v":0.39},{"t":0.125,"u":1.125,"f":34.9775,"v":0.39},{"t":0.175,"u":1.175,"f":34.9775,"v":0.42},{"t":0.225,"u":1.225,"f":34.9775,"v":0.42},{"t":0.275,"u":1.275,"f":34.9775,"v":0.41},{"t":0.325,"u":1.325,"f":34.9775,"v":0.47},{"t":0.375,"u":1.375,"f":34.9775,"v":0.58},{"t":0.425,"u":1.425,"f":34.9775,"v":0.68},{"t":0.475,"u":1.475,"f":34.9775,"v":0.6},{"t":0.525,"u":1.525,"f":34.9775,"v":0.87},{"t":0.575,"u":1.575,"f":34.9775,"v":0.56},{"t":0.625,"u":1.625,"f":34.9775,"v":0.56},{"t":0.675,"u":1.675,"f":34.9775,"v":0.87},{"t":0.725,"u":1.725,"f":34.9775,"v":0.6},{"t":0.775,"u":1.775,"f":34.9775,"v":0.68},{"t":0.825,"u":1.825,"f":34.9775,"v":0.58},{"t":0.875,"u":1.875,"f":34.9775,"v":0.47},{"t":0.925,"u":1.925,"f":34.9775,"v":0.41},{"t":0.975,"u":1.975,"f":34.9775,"v":0.42},
{"t":0.025,"u":1.025,"f":34.9925,"v":0.32},{"t":0.075,"u":1.075,"f":34.9925,"v":0.4},{"t":0.125,"u":1.125,"f":34.9925,"v":0.34},{"t":0.175,"u":1.175,"f":34.9925,"v":0.4},{"t":0.225,"u":1.225,"f":34.9925,"v":0.32},{"t":0.275,"u":1.275,"f":34.9925,"v":0.5},{"t":0.325,"u":1.325,"f":34.9925,"v":0.61},{"t":0.375,"u":1.375,"f":34.9925,"v":0.65},{"t":0.425,"u":1.425,"f":34.9925,"v":0.6},{"t":0.475,"u":1.475,"f":34.9925,"v":0.7},{"t":0.525,"u":1.525,"f":34.9925,"v":1.1},{"t":0.575,"u":1.575,"f":34.9925,"v":0.54},{"t":0.625,"u":1.625,"f":34.9925,"v":0.72},{"t":0.675,"u":1.675,"f":34.9925,"v":0.54},{"t":0.725,"u":1.725,"f":34.9925,"v":1.1},{"t":0.775,"u":1.775,"f":34.9925,"v":0.7},{"t":0.825,"u":1.825,"f":34.9925,"v":0.6},{"t":0.875,"u":1.875,"f":34.9925,"v":0.65},{"t":0.925,"u":1.925,"f":34.9925,"v":0.61},{"t":0.975,"u":1.975,"f":34.9925,"v":0.5}],
"calh":[
{"z":-0.55,"f":34.73,"v":0.48},{"z":-0.45,"f":34.73,"v":0.58},{"z":-0.35,"f":34.73,"v":0.85},{"z":-0.25,"f":34.73,"v":0.74},{"z":-0.15,"f":34.73,"v":0.55},{"z":-0.05,"f":34.73,"v":0.41},{"z":0.05,"f":34.73,"v":0.5},{"z":0.15,"f":34.73,"v":0.73},{"z":0.25,"f":34.73,"v":0.64},{"z":0.35,"f":34.73,"v":0.49},{"z":0.45,"f":34.73,"v":0.38},{"z":0.55,"f":34.73,"v":0.45},
{"z":-1.05,"f":34.79,"v":0.51},{"z":-0.95,"f":34.79,"v":0.75},{"z":-0.85,"f":34.79,"v":0.96},{"z":-0.75,"f":34.79,"v":0.8},{"z":-0.65,"f":34.79,"v":0.58},{"z":-0.55,"f":34.79,"v":0.47},{"z":-0.45,"f":34.79,"v":0.66},{"z":-0.35,"f":34.79,"v":0.83},{"z":-0.25,"f":34.79,"v":0.7},{"z":-0.15,"f":34.79,"v":0.51},{"z":-0.05,"f":34.79,"v":0.4},{"z":0.05,"f":34.79,"v":0.57},{"z":0.15,"f":34.79,"v":0.71},{"z":0.25,"f":34.79,"v":0.6},{"z":0.35,"f":34.79,"v":0.45},{"z":0.45,"f":34.79,"v":0.38},{"z":0.55,"f":34.79,"v":0.5},{"z":0.65,"f":34.79,"v":0.61},{"z":0.75,"f":34.79,"v":0.52},{"z":0.85,"f":34.79,"v":0.4},{"z":0.95,"f":34.79,"v":0.35},{"z":1.05,"f":34.79,"v":0.43},
{"z":-1.35,"f":34.85,"v":1.09},{"z":-1.25,"f":34.85,"v":0.85},{"z":-1.15,"f":34.85,"v":0.59},{"z":-1.05,"f":34.85,"v":0.51},{"z":-0.95,"f":34.85,"v":0.86},{"z":-0.85,"f":34.85,"v":0.94},{"z":-0.75,"f":34.85,"v":0.75},{"z":-0.65,"f":34.85,"v":0.54},{"z":-0.55,"f":34.85,"v":0.47},{"z":-0.45,"f":34.85,"v":0.75},{"z":-0.35,"f":34.85,"v":0.82},{"z":-0.25,"f":34.85,"v":0.65},{"z":-0.15,"f":34.85,"v":0.47},{"z":-0.05,"f":34.85,"v":0.4},{"z":0.05,"f":34.85,"v":0.65},{"z":0.15,"f":34.85,"v":0.7},{"z":0.25,"f":34.85,"v":0.57},{"z":0.35,"f":34.85,"v":0.42},{"z":0.45,"f":34.85,"v":0.38},{"z":0.55,"f":34.85,"v":0.56},{"z":0.65,"f":34.85,"v":0.6},{"z":0.75,"f":34.85,"v":0.49},{"z":0.85,"f":34.85,"v":0.38},{"z":0.95,"f":34.85,"v":0.35},{"z":1.05,"f":34.85,"v":0.48},{"z":1.15,"f":34.85,"v":0.5},{"z":1.25,"f":34.85,"v":0.42},{"z":1.35,"f":34.85,"v":0.33},
{"z":-1.55,"f":34.91,"v":0.6},{"z":-1.45,"f":34.91,"v":1.05},{"z":-1.35,"f":34.91,"v":1.03},{"z":-1.25,"f":34.91,"v":0.78},{"z":-1.15,"f":34.91,"v":0.55},{"z":-1.05,"f":34.91,"v":0.57},{"z":-0.95,"f":34.91,"v":0.92},{"z":-0.85,"f":34.91,"v":0.9},{"z":-0.75,"f":34.91,"v":0.69},{"z":-0.65,"f":34.91,"v":0.51},{"z":-0.55,"f":34.91,"v":0.52},{"z":-0.45,"f":34.91,"v":0.8},{"z":-0.35,"f":34.91,"v":0.78},{"z":-0.25,"f":34.91,"v":0.6},{"z":-0.15,"f":34.91,"v":0.44},{"z":-0.05,"f":34.91,"v":0.45},{"z":0.05,"f":34.91,"v":0.69},{"z":0.15,"f":34.91,"v":0.67},{"z":0.25,"f":34.91,"v":0.53},{"z":0.35,"f":34.91,"v":0.4},{"z":0.45,"f":34.91,"v":0.41},{"z":0.55,"f":34.91,"v":0.59},{"z":0.65,"f":34.91,"v":0.57},{"z":0.75,"f":34.91,"v":0.46},{"z":0.85,"f":34.91,"v":0.36},{"z":0.95,"f":34.91,"v":0.37},{"z":1.05,"f":34.91,"v":0.5},{"z":1.15,"f":34.91,"v":0.48},{"z":1.25,"f":34.91,"v":0.39},{"z":1.35,"f":34.91,"v":0.32},{"z":1.45,"f":34.91,"v":0.33},{"z":1.55,"f":34.91,"v":0.43},
{"z":-1.75,"f":34.97,"v":0.72},{"z":-1.65,"f":34.97,"v":0.52},{"z":-1.55,"f":34.97,"v":0.69},{"z":-1.45,"f":34.97,"v":1.13},{"z":-1.35,"f":34.97,"v":0.97},{"z":-1.25,"f":34.97,"v":0.71},{"z":-1.15,"f":34.97,"v":0.52},{"z":-1.05,"f":34.97,"v":0.64},{"z":-0.95,"f":34.97,"v":0.98},{"z":-0.85,"f":34.97,"v":0.85},{"z":-0.75,"f":34.97,"v":0.63},{"z":-0.65,"f":34.97,"v":0.48},{"z":-0.55,"f":34.97,"v":0.58},{"z":-0.45,"f":34.97,"v":0.85},{"z":-0.35,"f":34.97,"v":0.74},{"z":-0.25,"f":34.97,"v":0.55},{"z":-0.15,"f":34.97,"v":0.41},{"z":-0.05,"f":34.97,"v":0.5},{"z":0.05,"f":34.97,"v":0.73},{"z":0.15,"f":34.97,"v":0.64},{"z":0.25,"f":34.97,"v":0.49},{"z":0.35,"f":34.97,"v":0.38},{"z":0.45,"f":34.97,"v":0.45},{"z":0.55,"f":34.97,"v":0.62},{"z":0.65,"f":34.97,"v":0.55},{"z":0.75,"f":34.97,"v":0.43},{"z":0.85,"f":34.97,"v":0.35},{"z":0.95,"f":34.97,"v":0.39},{"z":1.05,"f":34.97,"v":0.52},{"z":1.15,"f":34.97,"v":0.47},{"z":1.25,"f":34.97,"v":0.37},{"z":1.35,"f":34.97,"v":0.31},{"z":1.45,"f":34.97,"v":0.35},{"z":1.55,"f":34.97,"v":0.45},{"z":1.65,"f":34.97,"v":0.41},{"z":1.75,"f":34.97,"v":0.34}],
"mask":[{"f":34.5,"l":-0.012,"r":0.012,"a":-1.784,"b":1.784},{"f":34.6,"l":-0.012,"r":0.012,"a":-1.784,"b":1.784},{"f":34.64,"l":-0.02,"r":0.02,"a":-1.784,"b":1.784},{"f":34.67,"l":-0.03,"r":0.03,"a":-1.784,"b":1.784},{"f":34.69,"l":-0.05,"r":0.05,"a":-1.784,"b":1.784},{"f":34.705,"l":-0.09,"r":0.09,"a":-1.784,"b":1.784},{"f":34.715,"l":-0.17,"r":0.17,"a":-1.784,"b":1.784},{"f":34.725,"l":-0.27,"r":0.27,"a":-1.784,"b":1.784},{"f":34.735,"l":-0.36,"r":0.36,"a":-1.784,"b":1.784},{"f":34.75,"l":-0.5,"r":0.5,"a":-1.784,"b":1.784},{"f":34.767,"l":-0.64,"r":0.64,"a":-1.784,"b":1.784},{"f":34.8,"l":-0.89,"r":0.89,"a":-1.784,"b":1.784},{"f":34.83,"l":-1.07,"r":1.07,"a":-1.784,"b":1.784},{"f":34.856,"l":-1.21,"r":1.21,"a":-1.784,"b":1.784},{"f":34.886,"l":-1.34,"r":1.34,"a":-1.784,"b":1.784},{"f":34.918,"l":-1.46,"r":1.46,"a":-1.784,"b":1.784},{"f":34.96,"l":-1.62,"r":1.62,"a":-1.784,"b":1.784},{"f":35,"l":-1.78,"r":1.78,"a":-1.784,"b":1.784}],
"cbar":[{"z":-1.66,"v":0.3},{"z":-1.6,"v":0.33},{"z":-1.54,"v":0.37},{"z":-1.48,"v":0.4},{"z":-1.43,"v":0.43},{"z":-1.37,"v":0.46},{"z":-1.31,"v":0.5},{"z":-1.25,"v":0.53},{"z":-1.19,"v":0.56},{"z":-1.13,"v":0.59},{"z":-1.08,"v":0.63},{"z":-1.02,"v":0.66},{"z":-0.96,"v":0.69},{"z":-0.9,"v":0.73},{"z":-0.84,"v":0.76},{"z":-0.78,"v":0.79},{"z":-0.73,"v":0.82},{"z":-0.67,"v":0.86},{"z":-0.61,"v":0.89},{"z":-0.55,"v":0.92},{"z":-0.49,"v":0.95},{"z":-0.43,"v":0.99},{"z":-0.38,"v":1.02},{"z":-0.32,"v":1.05},{"z":-0.26,"v":1.08},{"z":-0.2,"v":1.12},{"z":-0.14,"v":1.15}],
"Rl":[{"f":34.5,"R":0.005},{"f":34.6,"R":0.015},{"f":34.65,"R":0.03},{"f":34.69,"R":0.05},{"f":34.705,"R":0.08},{"f":34.715,"R":0.14},{"f":34.723,"R":0.22},{"f":34.732,"R":0.36},{"f":34.75,"R":0.5},{"f":34.767,"R":0.64},{"f":34.803,"R":0.91},{"f":34.83,"R":1.07},{"f":34.856,"R":1.21},{"f":34.886,"R":1.34},{"f":34.918,"R":1.46},{"f":34.96,"R":1.62},{"f":35,"R":1.77},{"f":35.005,"R":0.01},{"f":35.1,"R":0.005},{"f":35.2,"R":0.005}],
"Zl":[{"f":34.5,"Z":0.0004},{"f":34.518,"Z":0.0008},{"f":34.536,"Z":0.0004},{"f":34.563,"Z":0.0014},{"f":34.585,"Z":0.0018},{"f":34.6,"Z":-0.0004},{"f":34.616,"Z":-0.0016},{"f":34.634,"Z":-0.0012},{"f":34.659,"Z":-0.0028},{"f":34.669,"Z":0},{"f":34.687,"Z":0.0008},{"f":34.718,"Z":0.0008},{"f":34.736,"Z":0.0056},{"f":34.767,"Z":0.011},{"f":34.789,"Z":0.023},{"f":34.812,"Z":0.03},{"f":34.838,"Z":0.039},{"f":34.865,"Z":0.052},{"f":34.892,"Z":0.061},{"f":34.909,"Z":0.071},{"f":34.936,"Z":0.079},{"f":34.967,"Z":0.088},{"f":34.976,"Z":0.097},{"f":34.989,"Z":0.098},{"f":35,"Z":0.1},{"f":35.005,"Z":0.003},{"f":35.033,"Z":0.0026},{"f":35.078,"Z":0.0024},{"f":35.122,"Z":0.003},{"f":35.167,"Z":0.0026},{"f":35.2,"Z":0.0034}]
},
"spacing":-6,
"hconcat":[
{"bounds":"flush","spacing":19,"vconcat":[
{"width":264,"height":133,"resolve":{"axis":{"x":"independent","y":"independent"}},"layer":[
{"data":{"name":"tr"},"mark":{"type":"line","strokeWidth":1.4,"interpolate":"monotone"},"encoding":{"x":{"field":"t","type":"quantitative","scale":{"domain":[0,2],"nice":false,"zero":false},"axis":{"values":[0,0.5,1,1.5,2],"labels":false,"title":null}},"y":{"field":"V","type":"quantitative","scale":{"domain":[0.2,3.525],"nice":false,"zero":false},"axis":{"values":[1,2,3],"title":null}},"color":{"field":"s","type":"nominal","legend":null,"scale":{"domain":["D","C","B","A"],"range":["#1f78b8","#d35f35","#e6b83c","#7e3f90"]}}}},
{"data":{"name":"tr"},"mark":{"type":"line","strokeWidth":1.4,"interpolate":"monotone"},"encoding":{"x":{"field":"u","type":"quantitative","axis":null},"y":{"field":"V","type":"quantitative","axis":null},"color":{"field":"s","type":"nominal","legend":null}}},
{"data":{"values":[{"x":2.02,"y":2.95,"s":"D"},{"x":2.02,"y":2.2,"s":"C"},{"x":2.02,"y":1.4,"s":"B"},{"x":2.02,"y":0.6,"s":"A"}]},"mark":{"type":"text","align":"left","baseline":"middle","fontSize":19,"color":"#262626"},"encoding":{"x":{"field":"x","type":"quantitative","axis":null},"y":{"field":"y","type":"quantitative","axis":null},"text":{"field":"s"}}},
{"data":{"values":[{"x":-0.364,"y":1.1,"s":"V"},{"x":-0.356,"y":2.45,"s":"(V)"}]},"mark":{"type":"text","align":"center","baseline":"middle","fontSize":20,"angle":270,"color":"#262626"},"encoding":{"x":{"field":"x","type":"quantitative","axis":null},"y":{"field":"y","type":"quantitative","axis":null},"text":{"field":"s"}}},
{"data":{"values":[{"x":-0.288,"y":1.55,"s":"PD"}]},"mark":{"type":"text","align":"center","baseline":"middle","fontSize":14,"angle":270,"color":"#262626"},"encoding":{"x":{"field":"x","type":"quantitative","axis":null},"y":{"field":"y","type":"quantitative","axis":null},"text":{"field":"s"}}},
{"data":{"values":[{"x":-0.568,"y":3.8,"s":"a)"}]},"mark":{"type":"text","align":"center","baseline":"middle","fontSize":21,"fontWeight":"bold","color":"#333333"},"encoding":{"x":{"field":"x","type":"quantitative","axis":null},"y":{"field":"y","type":"quantitative","axis":null},"text":{"field":"s"}}},
{"data":{"values":[{"x":1,"y":3.975,"s":"Raw Data"}]},"mark":{"type":"text","align":"center","baseline":"middle","fontSize":19,"fontWeight":"bold","color":"#111111"},"encoding":{"x":{"field":"x","type":"quantitative","axis":null},"y":{"field":"y","type":"quantitative","axis":null},"text":{"field":"s"}}},
{"data":{"values":[{"x":1,"y":1}]},"mark":{"type":"point","opacity":0},"encoding":{"x":{"field":"x","type":"quantitative","axis":{"orient":"top","values":[0,0.5,1,1.5,2],"labels":false,"title":null}},"y":{"field":"y","type":"quantitative","axis":{"orient":"right","values":[1,2,3],"labels":false,"title":null}}}}]},
{"width":264,"height":265,"resolve":{"axis":{"x":"independent","y":"independent"}},"layer":[
{"data":{"name":"raw"},"mark":{"type":"rect","width":6.8,"height":6},"encoding":{"x":{"field":"t","type":"quantitative","scale":{"domain":[0,2],"nice":false,"zero":false},"axis":{"values":[0,0.5,1,1.5,2],"title":"t / T","zindex":1}},"y":{"field":"f","type":"quantitative","scale":{"domain":[34.5,35.2],"nice":false,"zero":false},"axis":{"values":[34.6,34.8,35,35.2],"title":"f (kHz)","zindex":1}},"color":{"field":"v","type":"quantitative","legend":null,"scale":{"domain":[0.3,0.40625,0.5125,0.61875,0.725,0.83125,0.9375,1.04375,1.15],"range":["#352a87","#0363e1","#1485d4","#06a7c6","#38b99e","#92bf73","#d9ba56","#fcce2e","#f9fb0e"]}}}},
{"data":{"name":"raw"},"mark":{"type":"rect","width":6.8,"height":6},"encoding":{"x":{"field":"u","type":"quantitative","axis":null},"y":{"field":"f","type":"quantitative","axis":null},"color":{"field":"v","type":"quantitative","legend":null}}},
{"data":{"name":"rawc"},"mark":{"type":"rect","width":13.4,"height":38.2},"encoding":{"x":{"field":"t","type":"quantitative","axis":null},"y":{"field":"f","type":"quantitative","axis":null},"color":{"field":"v","type":"quantitative","legend":null}}},
{"data":{"name":"rawc"},"mark":{"type":"rect","width":13.4,"height":38.2},"encoding":{"x":{"field":"u","type":"quantitative","axis":null},"y":{"field":"f","type":"quantitative","axis":null},"color":{"field":"v","type":"quantitative","legend":null}}},
{"data":{"name":"rawl"},"mark":{"type":"rect","width":13.4,"height":19.2},"encoding":{"x":{"field":"t","type":"quantitative","axis":null},"y":{"field":"f","type":"quantitative","axis":null},"color":{"field":"v","type":"quantitative","legend":null}}},
{"data":{"name":"rawl"},"mark":{"type":"rect","width":13.4,"height":19.2},"encoding":{"x":{"field":"u","type":"quantitative","axis":null},"y":{"field":"f","type":"quantitative","axis":null},"color":{"field":"v","type":"quantitative","legend":null}}},
{"data":{"values":[{"x":2,"x2":2.129,"f":35,"s":"D"},{"x":2,"x2":2.129,"f":34.91,"s":"C"},{"x":2,"x2":2.129,"f":34.82,"s":"B"},{"x":2,"x2":2.129,"f":34.73,"s":"A"}]},"mark":{"type":"rule","strokeWidth":1.5},"encoding":{"x":{"field":"x","type":"quantitative","axis":null},"x2":{"field":"x2"},"y":{"field":"f","type":"quantitative","axis":null},"stroke":{"field":"s","type":"nominal","legend":null,"scale":{"domain":["D","C","B","A"],"range":["#1f78b8","#d35f35","#e6b83c","#7e3f90"]}}}},
{"data":{"values":[{"x":2.023,"f":35.032,"s":"D"},{"x":2.023,"f":34.942,"s":"C"},{"x":2.023,"f":34.853,"s":"B"},{"x":2.023,"f":34.763,"s":"A"}]},"mark":{"type":"text","align":"left","baseline":"middle","fontSize":19,"color":"#262626"},"encoding":{"x":{"field":"x","type":"quantitative","axis":null},"y":{"field":"f","type":"quantitative","axis":null},"text":{"field":"s"}}},
{"data":{"values":[{"x":0.205,"f":34.537,"f2":34.65}]},"mark":{"type":"rule","strokeWidth":3.5,"color":"white"},"encoding":{"x":{"field":"x","type":"quantitative","axis":null},"y":{"field":"f","type":"quantitative","axis":null},"y2":{"field":"f2"}}},
{"data":{"values":[{"x":0.205,"f":34.642}]},"mark":{"type":"point","shape":"triangle-up","filled":true,"color":"white","opacity":1,"size":220},"encoding":{"x":{"field":"x","type":"quantitative","axis":null},"y":{"field":"f","type":"quantitative","axis":null}}},
{"data":{"values":[{"x":0.34,"f":34.605,"s":"Sweep"},{"x":0.29,"f":34.547,"s":"Direction"}]},"mark":{"type":"text","align":"left","baseline":"middle","fontSize":18,"color":"white"},"encoding":{"x":{"field":"x","type":"quantitative","axis":null},"y":{"field":"f","type":"quantitative","axis":null},"text":{"field":"s"}}},
{"data":{"values":[{"x":1,"y":35}]},"mark":{"type":"point","opacity":0},"encoding":{"x":{"field":"x","type":"quantitative","axis":{"orient":"top","values":[0,0.5,1,1.5,2],"labels":false,"title":null,"zindex":1}},"y":{"field":"y","type":"quantitative","axis":{"orient":"right","values":[34.6,34.8,35,35.2],"labels":false,"title":null,"zindex":1}}}}]}
]},
{"bounds":"flush","spacing":19,"vconcat":[
{"width":264,"height":133,"resolve":{"axis":{"x":"independent","y":"independent"}},"layer":[
{"data":{"name":"cal"},"mark":{"type":"line","strokeWidth":1.4,"interpolate":"monotone"},"encoding":{"x":{"field":"z","type":"quantitative","scale":{"domain":[-1.784,1.784],"nice":false,"zero":false},"axis":{"values":[-1,0,1],"labels":false,"title":null}},"y":{"field":"V","type":"quantitative","scale":{"domain":[0.2,3.525],"nice":false,"zero":false},"axis":{"values":[1,2,3],"labels":false,"title":null}},"color":{"field":"s","type":"nominal","legend":null,"scale":{"domain":["D","C","B","A"],"range":["#1f78b8","#d35f35","#e6b83c","#7e3f90"]}}}},
{"data":{"values":[{"x":1.811,"y":2.95,"s":"D"},{"x":1.811,"y":2.2,"s":"C"},{"x":1.811,"y":1.4,"s":"B"},{"x":1.811,"y":0.6,"s":"A"}]},"mark":{"type":"text","align":"left","baseline":"middle","fontSize":19,"color":"#262626"},"encoding":{"x":{"field":"x","type":"quantitative","axis":null},"y":{"field":"y","type":"quantitative","axis":null},"text":{"field":"s"}}},
{"data":{"values":[{"x":0,"y":3.975,"s":"Calibrated Data"}]},"mark":{"type":"text","align":"center","baseline":"middle","fontSize":19,"fontWeight":"bold","color":"#111111"},"encoding":{"x":{"field":"x","type":"quantitative","axis":null},"y":{"field":"y","type":"quantitative","axis":null},"text":{"field":"s"}}},
{"data":{"values":[{"x":0,"y":1},{"x":2.57,"y":1}]},"mark":{"type":"point","opacity":0},"encoding":{"x":{"field":"x","type":"quantitative","axis":{"orient":"top","values":[-1,0,1],"labels":false,"title":null}},"y":{"field":"y","type":"quantitative","axis":{"orient":"right","values":[1,2,3],"labels":false,"title":null}}}}]},
{"width":264,"height":265,"resolve":{"axis":{"x":"independent","y":"independent"}},"layer":[
{"data":{"name":"calh"},"mark":{"type":"rect","width":7.6,"height":23,"clip":true},"encoding":{"x":{"field":"z","type":"quantitative","scale":{"domain":[-1.784,1.784],"nice":false,"zero":false},"axis":{"values":[-1,0,1],"title":"z / λ","zindex":1}},"y":{"field":"f","type":"quantitative","scale":{"domain":[34.5,35.2],"nice":false,"zero":false},"axis":{"values":[34.6,34.8,35,35.2],"labels":false,"title":null,"zindex":1}},"color":{"field":"v","type":"quantitative","legend":null,"scale":{"domain":[0.3,0.40625,0.5125,0.61875,0.725,0.83125,0.9375,1.04375,1.15],"range":["#352a87","#0363e1","#1485d4","#06a7c6","#38b99e","#92bf73","#d9ba56","#fcce2e","#f9fb0e"]}}}},
{"data":{"values":[{"z":0,"f":34.62,"f2":34.7}]},"mark":{"type":"rule","strokeWidth":8,"color":"#1f87d6"},"encoding":{"x":{"field":"z","type":"quantitative","axis":null},"y":{"field":"f","type":"quantitative","axis":null},"y2":{"field":"f2"}}},
{"data":{"name":"mask"},"mark":{"type":"area","orient":"horizontal","color":"white"},"encoding":{"x":{"field":"a","type":"quantitative","axis":null},"x2":{"field":"l"},"y":{"field":"f","type":"quantitative","axis":null}}},
{"data":{"name":"mask"},"mark":{"type":"area","orient":"horizontal","color":"white"},"encoding":{"x":{"field":"r","type":"quantitative","axis":null},"x2":{"field":"b"},"y":{"field":"f","type":"quantitative","axis":null}}},
{"data":{"values":[{"z":0,"f":35,"f2":35.2},{"z":0,"f":34.5,"f2":34.64}]},"mark":{"type":"rule","strokeWidth":1.2,"color":"#3a9ad0"},"encoding":{"x":{"field":"z","type":"quantitative","axis":null},"y":{"field":"f","type":"quantitative","axis":null},"y2":{"field":"f2"}}},
{"data":{"name":"cbar"},"mark":{"type":"rect","width":4.8,"height":22},"encoding":{"x":{"field":"z","type":"quantitative","axis":null},"y":{"datum":34.563,"type":"quantitative","axis":null},"color":{"field":"v","type":"quantitative","legend":null}}},
{"data":{"values":[{"z":-1.689,"z2":-0.108,"f":34.534,"f2":34.592}]},"mark":{"type":"rect","filled":false,"stroke":"#111111","strokeWidth":1.2},"encoding":{"x":{"field":"z","type":"quantitative","axis":null},"x2":{"field":"z2"},"y":{"field":"f","type":"quantitative","axis":null},"y2":{"field":"f2"}}},
{"data":{"values":[{"z":-1.554,"f":34.624,"s":"0.3"},{"z":-0.878,"f":34.624,"s":"0.7"},{"z":-0.203,"f":34.624,"s":"1.1"},{"z":-1.297,"f":34.695,"s":"V"},{"z":-0.608,"f":34.695,"s":"(V)"}]},"mark":{"type":"text","align":"center","baseline":"middle","fontSize":20,"color":"#262626"},"encoding":{"x":{"field":"z","type":"quantitative","axis":null},"y":{"field":"f","type":"quantitative","axis":null},"text":{"field":"s"}}},
{"data":{"values":[{"z":-1.04,"f":34.671,"s":"PD"}]},"mark":{"type":"text","align":"center","baseline":"middle","fontSize":14,"color":"#262626"},"encoding":{"x":{"field":"z","type":"quantitative","axis":null},"y":{"field":"f","type":"quantitative","axis":null},"text":{"field":"s"}}},
{"data":{"values":[{"z":1.85,"z2":2.15,"f":35,"s":"D"},{"z":1.85,"z2":2.15,"f":34.91,"s":"C"},{"z":1.85,"z2":2.15,"f":34.82,"s":"B"},{"z":1.85,"z2":2.15,"f":34.73,"s":"A"}]},"mark":{"type":"rule","strokeWidth":1.5},"encoding":{"x":{"field":"z","type":"quantitative","axis":null},"x2":{"field":"z2"},"y":{"field":"f","type":"quantitative","axis":null},"stroke":{"field":"s","type":"nominal","legend":null,"scale":{"domain":["D","C","B","A"],"range":["#1f78b8","#d35f35","#e6b83c","#7e3f90"]}}}},
{"data":{"values":[{"z":1.92,"f":35,"s":"D"},{"z":1.92,"f":34.91,"s":"C"},{"z":1.92,"f":34.82,"s":"B"},{"z":1.92,"f":34.73,"s":"A"}]},"mark":{"type":"point","shape":"triangle-left","filled":true,"opacity":1,"size":150},"encoding":{"x":{"field":"z","type":"quantitative","axis":null},"y":{"field":"f","type":"quantitative","axis":null},"fill":{"field":"s","type":"nominal","legend":null,"scale":{"domain":["D","C","B","A"],"range":["#1f78b8","#d35f35","#e6b83c","#7e3f90"]}}}},
{"data":{"values":[{"z":2.15,"f":35.032,"s":"D"},{"z":2.15,"f":34.942,"s":"C"},{"z":2.15,"f":34.853,"s":"B"},{"z":2.15,"f":34.763,"s":"A"}]},"mark":{"type":"text","align":"center","baseline":"middle","fontSize":19,"color":"#262626"},"encoding":{"x":{"field":"z","type":"quantitative","axis":null},"y":{"field":"f","type":"quantitative","axis":null},"text":{"field":"s"}}},
{"data":{"values":[{"x":0,"y":35}]},"mark":{"type":"point","opacity":0},"encoding":{"x":{"field":"x","type":"quantitative","axis":{"orient":"top","values":[-1,0,1],"labels":false,"title":null,"zindex":1}},"y":{"field":"y","type":"quantitative","axis":{"orient":"right","values":[34.6,34.8,35,35.2],"labels":false,"title":null,"zindex":1}}}}]}
]},
{"bounds":"flush","spacing":21,"vconcat":[
{"width":263,"height":199,"resolve":{"axis":{"x":"independent","y":"independent"}},"layer":[
{"data":{"name":"Rl"},"mark":{"type":"line","strokeWidth":3,"color":"#1270b5"},"encoding":{"x":{"field":"f","type":"quantitative","scale":{"domain":[34.5,35.2],"nice":false,"zero":false},"axis":{"values":[34.6,34.8,35,35.2],"labels":false,"title":null}},"y":{"field":"R","type":"quantitative","scale":{"domain":[-0.105,2],"nice":false,"zero":false},"axis":{"values":[0,0.5,1,1.5,2],"title":"R / λ","titlePadding":12}}}},
{"data":{"values":[{"x":34.303,"y":2.14,"s":"b)"}]},"mark":{"type":"text","align":"center","baseline":"middle","fontSize":21,"fontWeight":"bold","color":"#333333"},"encoding":{"x":{"field":"x","type":"quantitative","axis":null},"y":{"field":"y","type":"quantitative","axis":null},"text":{"field":"s"}}},
{"data":{"values":[{"x":34.851,"y":2.19,"s":"Measured Deflections"}]},"mark":{"type":"text","align":"center","baseline":"middle","fontSize":19,"fontWeight":"bold","color":"#111111"},"encoding":{"x":{"field":"x","type":"quantitative","axis":null},"y":{"field":"y","type":"quantitative","axis":null},"text":{"field":"s"}}},
{"data":{"values":[{"x":35,"y":1}]},"mark":{"type":"point","opacity":0},"encoding":{"x":{"field":"x","type":"quantitative","axis":{"orient":"top","values":[34.6,34.8,35,35.2],"labels":false,"title":null}},"y":{"field":"y","type":"quantitative","axis":{"orient":"right","values":[0,0.5,1,1.5,2],"labels":false,"title":null}}}}]},
{"width":263,"height":198,"resolve":{"axis":{"x":"independent","y":"independent"}},"layer":[
{"data":{"name":"Zl"},"mark":{"type":"line","strokeWidth":3,"color":"#1270b5"},"encoding":{"x":{"field":"f","type":"quantitative","scale":{"domain":[34.5,35.2],"nice":false,"zero":false},"axis":{"values":[34.6,34.8,35,35.2],"title":"f (kHz)"}},"y":{"field":"Z","type":"quantitative","scale":{"domain":[-0.0103,0.11],"nice":false,"zero":false},"axis":{"values":[0,0.02,0.04,0.06,0.08,0.1],"title":null}}}},
{"data":{"values":[{"x":34.31,"y":0.04,"s":"z"},{"x":34.31,"y":0.061,"s":"/ λ"}]},"mark":{"type":"text","align":"center","baseline":"middle","fontSize":19,"angle":270,"color":"#262626"},"encoding":{"x":{"field":"x","type":"quantitative","axis":null},"y":{"field":"y","type":"quantitative","axis":null},"text":{"field":"s"}}},
{"data":{"values":[{"x":34.327,"y":0.0465,"s":"0"}]},"mark":{"type":"text","align":"center","baseline":"middle","fontSize":13,"angle":270,"color":"#262626"},"encoding":{"x":{"field":"x","type":"quantitative","axis":null},"y":{"field":"y","type":"quantitative","axis":null},"text":{"field":"s"}}},
{"data":{"values":[{"x":35,"y":0.05}]},"mark":{"type":"point","opacity":0},"encoding":{"x":{"field":"x","type":"quantitative","axis":{"orient":"top","values":[34.6,34.8,35,35.2],"labels":false,"title":null}},"y":{"field":"y","type":"quantitative","axis":{"orient":"right","values":[0,0.02,0.04,0.06,0.08,0.1],"labels":false,"title":null}}}}]}
]}
]}
